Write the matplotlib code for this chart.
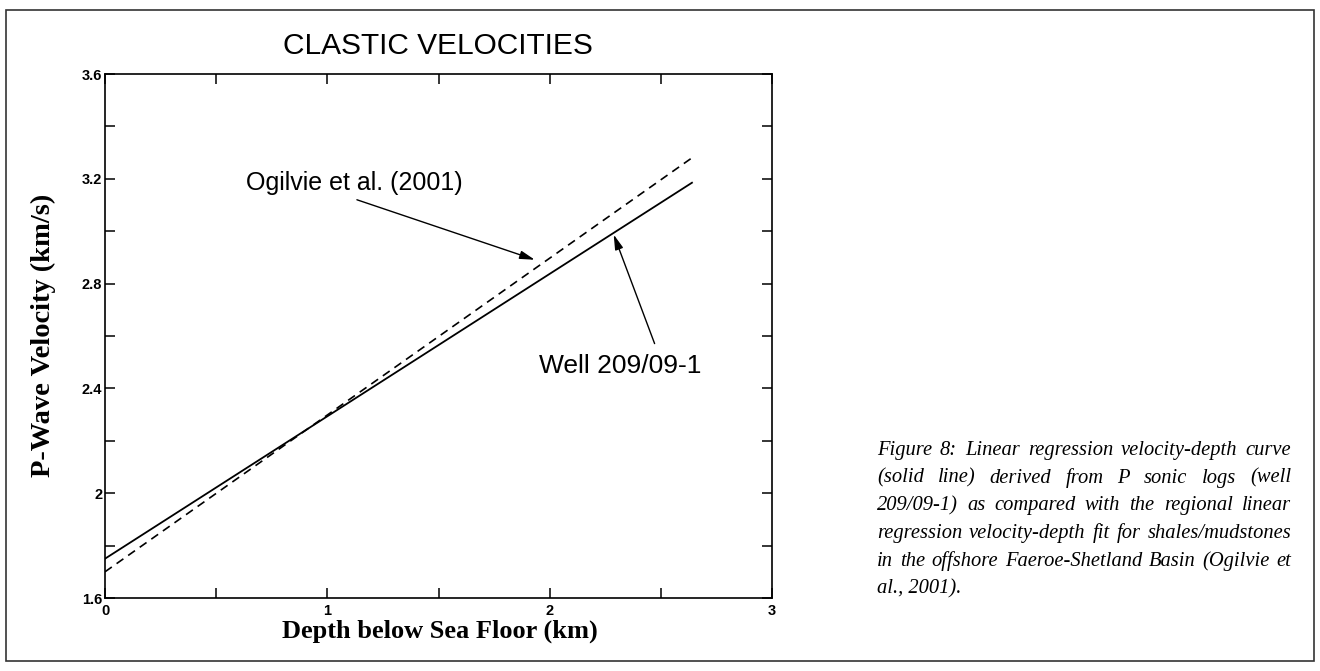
import matplotlib
matplotlib.use("Agg")
import matplotlib.pyplot as plt
from matplotlib.patches import Rectangle
from matplotlib.ticker import MultipleLocator

# Data
depths = [0.0, 2.64]
well_v = [1.75, 3.185]       # solid: well 209/09-1
ogilvie_v = [1.70, 3.28]     # dashed: Ogilvie et al. (2001)
xticks = [0, 1, 2, 3]
yticks = [1.6, 2.0, 2.4, 2.8, 3.2, 3.6]
ytick_labels = ["1.6", "2", "2.4", "2.8", "3.2", "3.6"]
caption_lines = [
    "Figure 8: Linear regression velocity-depth curve",
    "(solid line) derived from P sonic logs (well",
    "209/09-1) as compared with the regional linear",
    "regression velocity-depth fit for shales/mudstones",
    "in the offshore Faeroe-Shetland Basin (Ogilvie et",
    "al., 2001).",
]

W, H = 1320, 671
fig = plt.figure(figsize=(W / 100, H / 100), dpi=100)

# outer frame
fig.patches.append(Rectangle((6 / W, 1 - 661 / H), (1314 - 6) / W, (661 - 10) / H,
                             transform=fig.transFigure, fill=False, lw=1.2, ec="#333333"))

ax_l, ax_r, ax_t, ax_b = 105, 772, 74, 598
ax = fig.add_axes([ax_l / W, 1 - ax_b / H, (ax_r - ax_l) / W, (ax_b - ax_t) / H])
ax.plot(depths, well_v, color="black", lw=1.3)
ax.plot(depths, ogilvie_v, color="black", lw=1.2, ls=(0, (5, 3.5)))
ax.set_xlim(0, 3)
ax.set_ylim(1.6, 3.6)
ax.set_xticks(xticks)
ax.set_xticklabels([str(t) for t in xticks])
ax.set_yticks(yticks)
ax.set_yticklabels(ytick_labels)
ax.xaxis.set_minor_locator(MultipleLocator(0.5))
ax.yaxis.set_minor_locator(MultipleLocator(0.2))
ax.tick_params(which="both", direction="in", top=True, right=True, length=7, width=1.1)
ax.tick_params(which="major", labelsize=10.5)
ax.tick_params(axis="x", which="major", pad=4)
ax.tick_params(axis="y", which="major", pad=2)
for lab in ax.get_xticklabels() + ax.get_yticklabels():
    lab.set_fontweight("bold")
    lab.set_family("Liberation Sans")
for s in ax.spines.values():
    s.set_linewidth(1.2)

fig.text(438 / W, 1 - 46 / H, "CLASTIC VELOCITIES", ha="center", va="center",
         fontsize=21.5, family="Liberation Sans", fontweight="medium")
fig.text(43 / W, 1 - 335 / H, "P-Wave Velocity (km/s)", rotation=90, ha="center", va="center",
         fontsize=20.5, fontweight="bold", family="Liberation Serif")
fig.text(440 / W, 1 - 631 / H, "Depth below Sea Floor (km)", ha="center", va="center",
         fontsize=19, fontweight="bold", family="Liberation Serif")

# annotations
ax.text(0.635, 3.185, "Ogilvie et al. (2001)", fontsize=18, family="Liberation Sans",
        ha="left", va="center")
ax.text(1.951, 2.484, "Well 209/09-1", fontsize=19, family="Liberation Sans",
        ha="left", va="center")
arrow = dict(arrowstyle="-|>,head_length=0.9,head_width=0.25", color="black", lw=1.0,
             shrinkA=0, shrinkB=0, mutation_scale=10)
ax.annotate("", xy=(1.933, 2.891), xytext=(1.133, 3.12), arrowprops=arrow)
ax.annotate("", xy=(2.288, 2.987), xytext=(2.472, 2.571), arrowprops=arrow)

# justified caption
x0, x1 = 877, 1291
base0, dy = 455, 27.7
fig.canvas.draw()
r = fig.canvas.get_renderer()
cap_font = dict(style="italic", family="Liberation Serif")


def width_of(s, fs):
    t = fig.text(0, 0, s, fontsize=fs, **cap_font)
    w = t.get_window_extent(renderer=r).width
    t.remove()
    return w


base_fs = 12.0
longest = max(width_of(l, base_fs) for l in caption_lines[:-1])
fs = base_fs * (x1 - x0) * 0.985 / longest

for i, line in enumerate(caption_lines):
    y = 1 - (base0 + i * dy) / H
    if i == len(caption_lines) - 1:
        fig.text(x0 / W, y, line, fontsize=fs, ha="left", va="baseline", **cap_font)
        continue
    words = line.split(" ")
    widths = [width_of(w, fs) for w in words]
    gap = (x1 - x0 - sum(widths)) / (len(words) - 1)
    x = x0
    for w, wd in zip(words, widths):
        fig.text(x / W, y, w, fontsize=fs, ha="left", va="baseline", **cap_font)
        x += wd + gap

fig.savefig("out.png", dpi=100)
